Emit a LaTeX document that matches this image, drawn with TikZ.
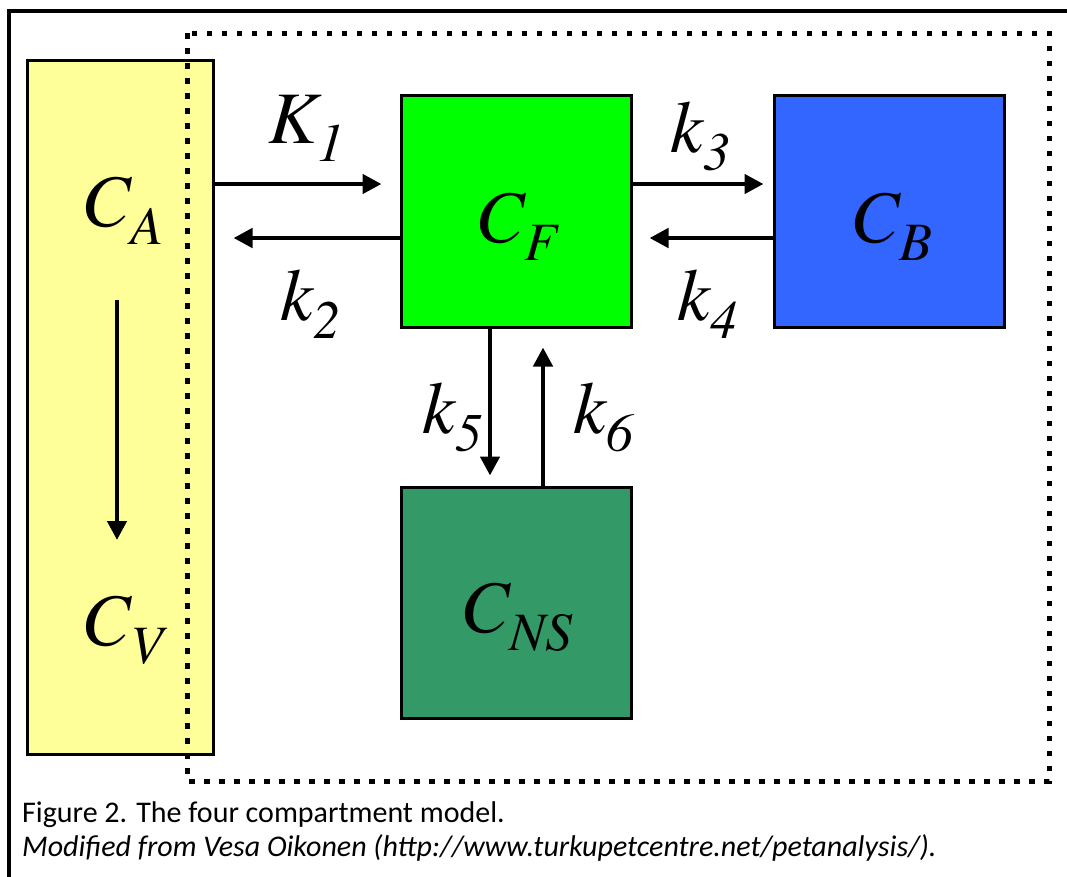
\documentclass[tikz,border=0pt]{standalone}
\usepackage{fontspec}
\setmainfont{Carlito}
\newfontfamily\tms{texgyretermes}[Extension=.otf, UprightFont=*-regular, ItalicFont=*-italic, BoldFont=*-bold, BoldItalicFont=*-bolditalic]
\usetikzlibrary{arrows.meta,calc}
\newcommand\cmplab[2]{{\tms\itshape{\fontsize{74}{74}\selectfont #1}{\fontsize{54}{54}\selectfont\raisebox{-18pt}{#2}}}}
\definecolor{yel}{HTML}{FFFF99}
\definecolor{grn}{HTML}{00FF00}
\definecolor{blu}{HTML}{3366FF}
\definecolor{dgrn}{HTML}{339966}
\tikzset{
  box/.style={draw=black, line width=3pt, inner sep=0pt},
  arr/.style={line width=4.5pt, -{Triangle[length=19pt,width=19pt]}},
  lab/.style={anchor=base west, inner sep=0pt},
  captext/.style={anchor=base west, inner sep=0pt, font=\fontsize{30}{32}\selectfont},
}
\begin{document}
\begin{tikzpicture}[x=1pt,y=-1pt]
\useasboundingbox (0,0) rectangle (1067,876);
\clip (0,0) rectangle (1067,876);
% outer frame
\draw[line width=3.5pt] (9,11) rectangle (1090,900);
% compartments
\node[box, fill=yel, minimum width=186pt, minimum height=694pt] (A) at (120,407) {};
\node[box, fill=grn, minimum width=230pt, minimum height=232pt] (F) at (516,211) {};
\node[box, fill=blu, minimum width=230pt, minimum height=232pt] (B) at (889,211) {};
\node[box, fill=dgrn, minimum width=230pt, minimum height=231pt] (NS) at (516,602.5) {};
% dotted tissue region
\draw[line width=5pt, dash pattern=on 5.5pt off 9.5pt] (187,33) rectangle (1049,781);
% helper coordinates
\coordinate (y1) at (0,184);
\coordinate (y2) at (0,238);
\coordinate (x5) at (490,0);
\coordinate (x6) at (543,0);
\coordinate (va) at (117,300);
\coordinate (vb) at (117,540);
% arrows
\draw[arr] (A.east |- y1) -- ([xshift=-18pt]F.west |- y1);
\draw[arr] (F.west |- y2) -- ([xshift=19pt]A.east |- y2);
\draw[arr] (F.east |- y1) -- ([xshift=-9pt]B.west |- y1);
\draw[arr] (B.west |- y2) -- ([xshift=17pt]F.east |- y2);
\draw[arr] (F.south -| x5) -- ([yshift=10pt]NS.north -| x5);
\draw[arr] (NS.north -| x6) -- ([yshift=-19pt]F.south -| x6);
\draw[arr] (va) -- (vb);
% compartment labels
\node[lab] (lA) at (81,226) {\cmplab{C}{A}};
\node[lab] (lV) at (81,645) {\cmplab{C}{V}};
\node[lab] (lF) at (475,242) {\cmplab{C}{F}};
\node[lab] (lB) at (850,242) {\cmplab{C}{B}};
\node[lab] (lNS) at (460,632) {\cmplab{C}{NS}};
% rate labels
\node[lab] (k1) at (268,143) {\cmplab{K}{1}};
\node[lab] (k2) at (280,320) {\cmplab{k}{2}};
\node[lab] (k3) at (670,152) {\cmplab{k}{3}};
\node[lab] (k4) at (677,320) {\cmplab{k}{4}};
\node[lab] (k5) at (422,433) {\cmplab{k}{5}};
\node[lab] (k6) at (573,433) {\cmplab{k}{6}};
% caption
\node[captext] (c1) at (22,822) {Figure 2. The four compartment model.};
\node[captext] (c2) at (22,856) {\itshape Modified from Vesa Oikonen (http://www.turkupetcentre.net/petanalysis/).};
\end{tikzpicture}
\end{document}
